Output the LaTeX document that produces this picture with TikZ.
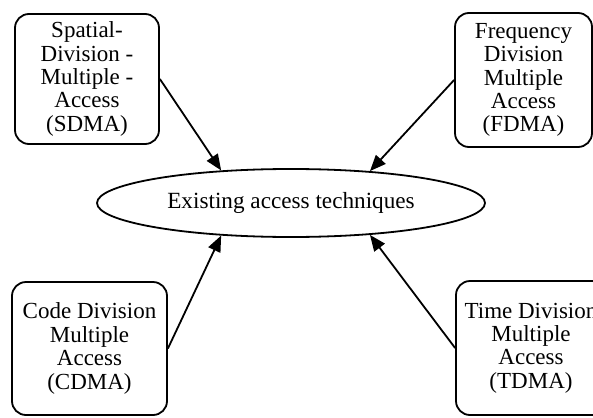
\documentclass[tikz,border=0pt]{standalone}
\usepackage{fontspec}
\setmainfont{Liberation Serif}
\usetikzlibrary{arrows.meta,shapes.geometric}

\begin{document}
\begin{tikzpicture}[x=0.5pt, y=-0.5pt,
	accessbox/.style={rectangle, draw, rounded corners=7pt, line width=0.9pt, align=center, inner sep=0pt, font=\fontsize{11.5}{11.7}\selectfont},
	feed/.style={-{Triangle[length=8pt, width=6.5pt]}, line width=0.9pt}]
	\useasboundingbox (0,0) rectangle (593,417);
	\node (techniques) [ellipse, draw, line width=0.9pt, inner sep=0pt, minimum width=194pt, minimum height=34pt, font=\fontsize{11.6}{13}\selectfont] at (291,203) {Existing access techniques};
	\node (sdma) [accessbox, minimum width=72pt, minimum height=65pt] at (87,79) {Spatial-\\Division -\\Multiple -\\Access\\(SDMA)};
	\node (fdma) [accessbox, minimum width=68.5pt, minimum height=67pt] at (523.5,80) {Frequency\\Division\\Multiple\\Access\\(FDMA)};
	\node (cdma) [accessbox, minimum width=77.5pt, minimum height=66.5pt] at (89.5,348.5) {Code Division\\Multiple\\Access\\(CDMA)};
	\node (tdma) [accessbox, minimum width=75pt, minimum height=67pt] at (531,348) {Time Division\\Multiple\\Access\\(TDMA)};
	
	\draw[feed] (sdma.east) -- (techniques.155);
	\draw[feed] (fdma.west) -- (techniques.22);
	\draw[feed] (cdma.east) -- (techniques.-155);
	\draw[feed] (tdma.west) -- (techniques.-22);
\end{tikzpicture}
\end{document}
